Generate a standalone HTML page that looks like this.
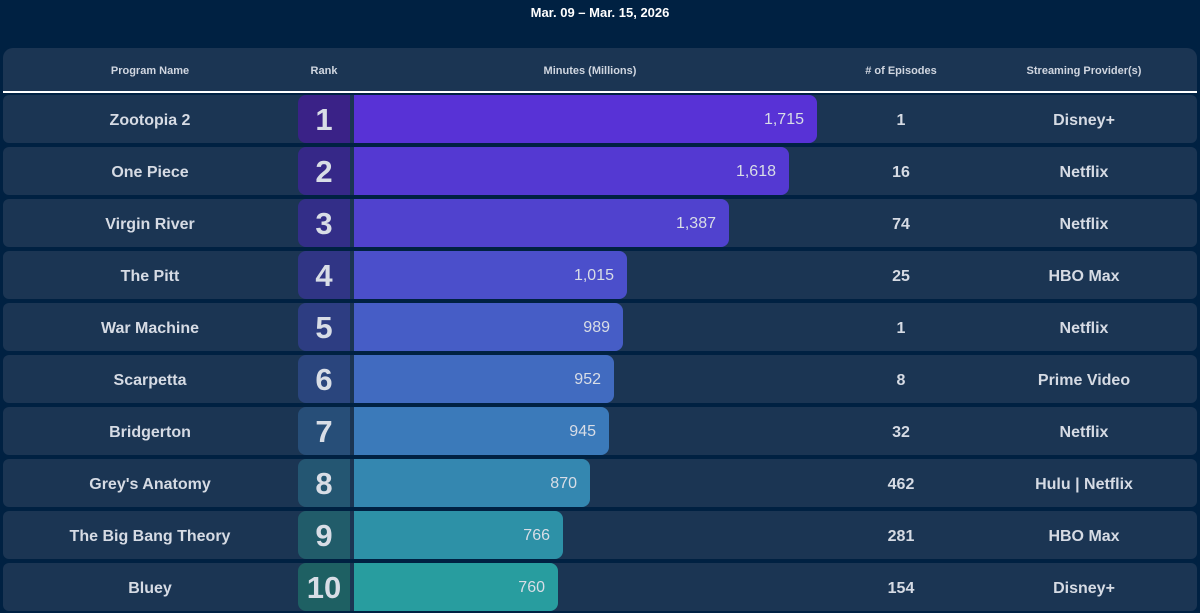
<!DOCTYPE html>
<html><head><meta charset="utf-8"><style>
*{margin:0;padding:0;box-sizing:border-box}
body{width:1200px;height:612px;background:#002142;font-family:"Liberation Sans",Arial,sans-serif;color:#d6dbe4;position:relative;overflow:hidden}
.t{position:absolute;top:5px;left:0;width:1200px;text-align:center;font-size:13px;font-weight:bold;color:#fff}
.hd{position:absolute;left:3px;top:48px;width:1194px;height:45px;background:#1b3553;border-radius:10px 10px 0 0;border-bottom:2px solid #fff}
.h{position:absolute;top:17px;font-size:11px;font-weight:bold;color:#d0d6e0;transform:translateX(-50%);white-space:nowrap}
.r{position:absolute;left:3px;width:1194px;height:48px;background:#1b3553;border-radius:6px}
.c{position:absolute;top:2px;line-height:48px;font-size:16px;font-weight:bold;transform:translateX(-50%);white-space:nowrap}
.rk{position:absolute;left:295px;top:0;width:52px;height:48px;border-radius:8px 0 0 8px;text-align:center;line-height:50px;font-size:31px;font-weight:bold;color:#d8dde6}
.b{position:absolute;left:351px;top:0;height:48px;border-radius:0 8px 8px 0;text-align:right;padding-right:13px;line-height:50px;font-size:16px;color:#d8dde6}
</style></head><body>
<div class="t">Mar. 09 – Mar. 15, 2026</div>
<div class="hd">
<div class="h" style="left:147px">Program Name</div>
<div class="h" style="left:321px">Rank</div>
<div class="h" style="left:587px">Minutes (Millions)</div>
<div class="h" style="left:898px"># of Episodes</div>
<div class="h" style="left:1081px">Streaming Provider(s)</div>
</div>
<div class="r" style="top:95px"><div class="c" style="left:147px">Zootopia 2</div><div class="rk" style="background:#3a2287">1</div><div class="b" style="width:463px;background:#5832d6">1,715</div><div class="c" style="left:898px">1</div><div class="c" style="left:1081px">Disney+</div></div>
<div class="r" style="top:147px"><div class="c" style="left:147px">One Piece</div><div class="rk" style="background:#362888">2</div><div class="b" style="width:435px;background:#5439d2">1,618</div><div class="c" style="left:898px">16</div><div class="c" style="left:1081px">Netflix</div></div>
<div class="r" style="top:199px"><div class="c" style="left:147px">Virgin River</div><div class="rk" style="background:#332e88">3</div><div class="b" style="width:375px;background:#5042ce">1,387</div><div class="c" style="left:898px">74</div><div class="c" style="left:1081px">Netflix</div></div>
<div class="r" style="top:251px"><div class="c" style="left:147px">The Pitt</div><div class="rk" style="background:#303585">4</div><div class="b" style="width:273px;background:#4b4fcb">1,015</div><div class="c" style="left:898px">25</div><div class="c" style="left:1081px">HBO Max</div></div>
<div class="r" style="top:303px"><div class="c" style="left:147px">War Machine</div><div class="rk" style="background:#2d3d82">5</div><div class="b" style="width:269px;background:#465dc6">989</div><div class="c" style="left:898px">1</div><div class="c" style="left:1081px">Netflix</div></div>
<div class="r" style="top:355px"><div class="c" style="left:147px">Scarpetta</div><div class="rk" style="background:#2a457d">6</div><div class="b" style="width:260px;background:#416bc0">952</div><div class="c" style="left:898px">8</div><div class="c" style="left:1081px">Prime Video</div></div>
<div class="r" style="top:407px"><div class="c" style="left:147px">Bridgerton</div><div class="rk" style="background:#274e78">7</div><div class="b" style="width:255px;background:#3b7aba">945</div><div class="c" style="left:898px">32</div><div class="c" style="left:1081px">Netflix</div></div>
<div class="r" style="top:459px"><div class="c" style="left:147px">Grey's Anatomy</div><div class="rk" style="background:#245672">8</div><div class="b" style="width:236px;background:#3487b0">870</div><div class="c" style="left:898px">462</div><div class="c" style="left:1081px">Hulu | Netflix</div></div>
<div class="r" style="top:511px"><div class="c" style="left:147px">The Big Bang Theory</div><div class="rk" style="background:#215c6a">9</div><div class="b" style="width:209px;background:#2d91a7">766</div><div class="c" style="left:898px">281</div><div class="c" style="left:1081px">HBO Max</div></div>
<div class="r" style="top:563px"><div class="c" style="left:147px">Bluey</div><div class="rk" style="background:#1e6063">10</div><div class="b" style="width:204px;background:#289d9f">760</div><div class="c" style="left:898px">154</div><div class="c" style="left:1081px">Disney+</div></div>
</body></html>
